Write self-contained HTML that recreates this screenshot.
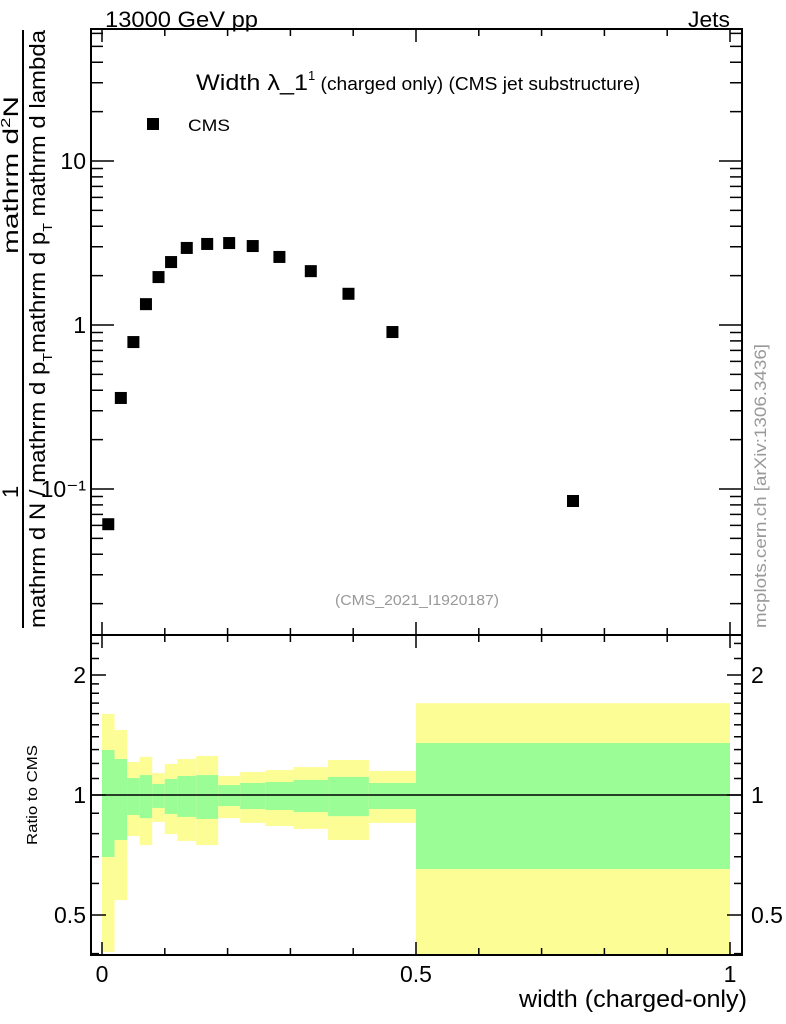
<!DOCTYPE html>
<html><head><meta charset="utf-8">
<style>
html,body{margin:0;padding:0;background:#fff;}
svg{display:block;font-family:"Liberation Sans",Arial,sans-serif;}
</style></head>
<body>
<svg id="c" width="786" height="1024" viewBox="0 0 786 1024" xmlns="http://www.w3.org/2000/svg">
<g id="bands"></g>
<g id="marks"></g>
<g id="axes"></g>
<rect x="91" y="29" width="651" height="606" fill="none" stroke="#000" stroke-width="2"/>
<rect x="91" y="635" width="651" height="320" fill="none" stroke="#000" stroke-width="2"/>
<text x="105" y="27" font-size="22" textLength="153" lengthAdjust="spacingAndGlyphs">13000 GeV pp</text>
<text x="688" y="27" font-size="22" textLength="42" lengthAdjust="spacingAndGlyphs">Jets</text>
<text x="196" y="90" font-size="22"><tspan textLength="112" lengthAdjust="spacingAndGlyphs">Width λ_1</tspan><tspan font-size="13" dy="-10">1</tspan><tspan font-size="18" dy="10" textLength="325" lengthAdjust="spacingAndGlyphs"> (charged only) (CMS jet substructure)</tspan></text>
<rect x="147" y="118" width="12" height="12" fill="#000"/>
<text x="188" y="131" font-size="17" textLength="42" lengthAdjust="spacingAndGlyphs">CMS</text>
<text x="335" y="605" font-size="15" fill="#999" textLength="164" lengthAdjust="spacingAndGlyphs">(CMS_2021_I1920187)</text>
<text transform="translate(766,628) rotate(-90)" font-size="17" fill="#999" textLength="284" lengthAdjust="spacingAndGlyphs">mcplots.cern.ch [arXiv:1306.3436]</text>
<g>
<line x1="23" y1="30" x2="23" y2="628" stroke="#000" stroke-width="2"/>
<text transform="translate(18,254) rotate(-90)" font-size="21" textLength="158" lengthAdjust="spacingAndGlyphs">mathrm d<tspan font-size="13" dy="-8">2</tspan><tspan dy="8">N</tspan></text>
<text transform="translate(18,498) rotate(-90)" font-size="22">1</text>
<text transform="translate(45,628) rotate(-90)" font-size="22" textLength="598" lengthAdjust="spacingAndGlyphs">mathrm d N / mathrm d p<tspan font-size="13" dy="7">T</tspan><tspan dy="-7">mathrm d p</tspan><tspan font-size="13" dy="7">T</tspan><tspan dy="-7"> mathrm d lambda</tspan></text>
</g>
<text transform="translate(37,845) rotate(-90)" font-size="15" textLength="100" lengthAdjust="spacingAndGlyphs">Ratio to CMS</text>
<text x="519" y="1007" font-size="24" textLength="228" lengthAdjust="spacingAndGlyphs">width (charged-only)</text>
</svg>
<script>
const binEdges=[0,0.02,0.04,0.06,0.08,0.1,0.12,0.15,0.185,0.22,0.26,0.305,0.36,0.425,0.5,1.0];
const binCenters=[0.01,0.03,0.05,0.07,0.09,0.11,0.135,0.1675,0.2025,0.24,0.2825,0.3325,0.3925,0.4625,0.75];
const cmsValues=[0.061,0.359,0.787,1.34,1.96,2.42,2.95,3.12,3.16,3.03,2.60,2.13,1.55,0.906,0.0845];
const yellowHi=[1.597,1.456,1.21,1.246,1.135,1.196,1.231,1.253,1.116,1.142,1.155,1.175,1.224,1.149,1.70];
const greenHi=[1.297,1.231,1.103,1.122,1.066,1.097,1.116,1.122,1.059,1.072,1.078,1.091,1.11,1.072,1.35];
const greenLo=[0.699,0.771,0.891,0.875,0.928,0.896,0.881,0.871,0.938,0.922,0.917,0.906,0.885,0.922,0.652];
const yellowLo=[0.404,0.545,0.789,0.749,0.856,0.798,0.767,0.749,0.875,0.851,0.836,0.822,0.771,0.851,0.30];
const xTickLabels=["0","0.5","1"];
const yMainLabels=["10","1","10\u207B\u00B9"];
const yRatioLabels=["2","1","0.5"];

const NS="http://www.w3.org/2000/svg";
const X0=102,X1=730;
function xs(v){return X0+(X1-X0)*v;}
function ym(v){return 161-164*Math.log10(v/10);}
function yr(v){return Math.max(636,Math.min(954,795-120*Math.log2(v)));}
function mk(tag,attrs,parent){const e=document.createElementNS(NS,tag);for(const k in attrs)e.setAttribute(k,attrs[k]);parent.appendChild(e);return e;}
const bands=document.getElementById('bands'),marks=document.getElementById('marks'),axes=document.getElementById('axes');

for(let i=0;i<binCenters.length;i++){
  const xa=xs(binEdges[i]),xb=xs(binEdges[i+1]);
  let y1=yr(yellowHi[i]),y2=yr(yellowLo[i]);
  const r1=mk('rect',{x:xa,y:y1,width:xb-xa,height:y2-y1,fill:'#fdfd96'},bands);
  
  
  y1=yr(greenHi[i]);y2=yr(greenLo[i]);
  const r2=mk('rect',{x:xa,y:y1,width:xb-xa,height:y2-y1,fill:'#9bfd96'},bands);
  
  
  const p=mk('rect',{x:xs(binCenters[i])-6,y:ym(cmsValues[i])-6,width:12,height:12,fill:'#000'},marks);
  
  
}
const ref=mk('line',{x1:92,x2:741,y1:yr(1),y2:yr(1),stroke:'#000','stroke-width':1.5},bands);



function ln(x1,y1,x2,y2){mk('line',{x1:x1,y1:y1,x2:x2,y2:y2,stroke:'#000','stroke-width':1.5},axes);}
for(let k=0;k<=10;k++){
  const v=k/10,x=xs(v),L=(k%5==0)?13:7;
  ln(x,635,x,635-L); ln(x,29,x,29+L);
  ln(x,955,x,955-L); ln(x,635,x,635+L);
}
xTickLabels.forEach((t,i)=>{
  const tx=mk('text',{x:xs(i*0.5),y:982,'font-size':23,'text-anchor':'middle'},axes);
  tx.textContent=t;
  
  
});
for(let d=-2;d<=1;d++){
  for(let m=1;m<=9;m++){
    const v=m*Math.pow(10,d),y=ym(v);
    if(y<30||y>634)continue;
    const L=(m==1)?22:11;
    ln(92,y,92+L,y); ln(741,y,741-L,y);
  }
}
[10,1,0.1].forEach((v,i)=>{
  const tx=mk('text',{x:86,y:ym(v)+8,'font-size':23,'text-anchor':'end'},axes);
  tx.textContent=yMainLabels[i];
  
  
});
[0.4,0.5,0.6,0.7,0.8,0.9,1,1.1,1.2,1.3,1.4,1.5,1.6,1.7,1.8,1.9,2,2.2,2.4].forEach(v=>{
  const y=795-120*Math.log2(v); if(y<636||y>954)return;
  const L=(v==0.5||v==1||v==2)?14:7;
  ln(92,y,92+L,y); ln(741,y,741-L,y);
});
[2,1,0.5].forEach((v,i)=>{
  const a=mk('text',{x:86,y:yr(v)+8,'font-size':23,'text-anchor':'end'},axes);
  a.textContent=yRatioLabels[i];
  
  
  const b=mk('text',{x:751,y:yr(v)+8,'font-size':23},axes);
  b.textContent=yRatioLabels[i];
  
  
});
</script>
</body></html>
